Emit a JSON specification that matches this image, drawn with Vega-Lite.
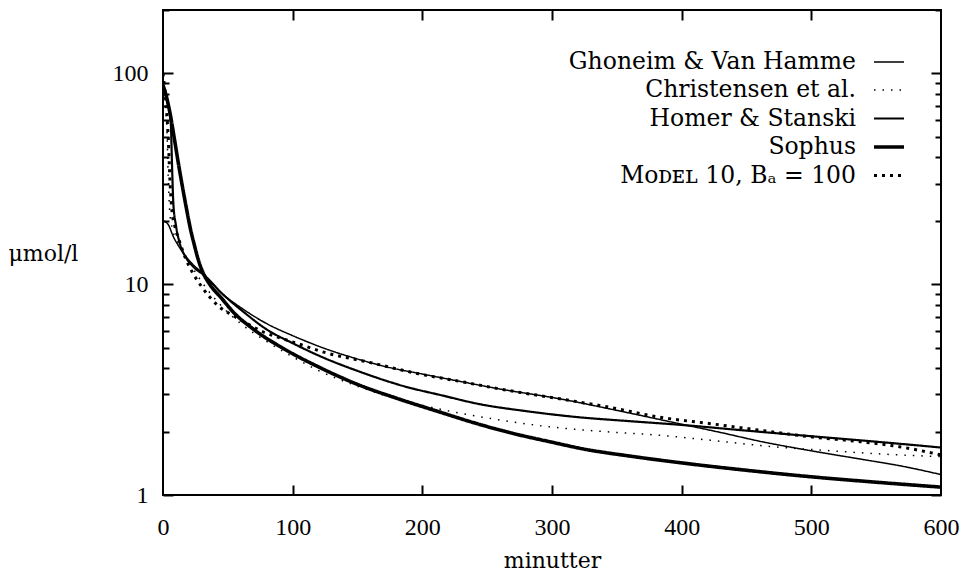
{
  "$schema": "https://vega.github.io/schema/vega-lite/v6.json",
  "autosize": {"type": "none"},
  "padding": {"left": 163, "top": 10, "right": 21, "bottom": 76},
  "width": 778,
  "height": 485,
  "background": "white",
  "config": {
    "view": {"stroke": "black", "strokeWidth": 2},
    "axis": {"grid": false, "domain": false, "tickColor": "black", "tickWidth": 2, "labelColor": "black", "titleColor": "black"},
    "legend": {"symbolStrokeColor": "black"}
  },
  "datasets": {
    "curves": [
      {"t": 0, "v": 20, "s": "Ghoneim & Van Hamme"},
      {"t": 4, "v": 19.2, "s": "Ghoneim & Van Hamme"},
      {"t": 8, "v": 16.8, "s": "Ghoneim & Van Hamme"},
      {"t": 12, "v": 15.2, "s": "Ghoneim & Van Hamme"},
      {"t": 20, "v": 13, "s": "Ghoneim & Van Hamme"},
      {"t": 31, "v": 11.2, "s": "Ghoneim & Van Hamme"},
      {"t": 45, "v": 9.1, "s": "Ghoneim & Van Hamme"},
      {"t": 62, "v": 7.6, "s": "Ghoneim & Van Hamme"},
      {"t": 80, "v": 6.5, "s": "Ghoneim & Van Hamme"},
      {"t": 100, "v": 5.7, "s": "Ghoneim & Van Hamme"},
      {"t": 125, "v": 4.95, "s": "Ghoneim & Van Hamme"},
      {"t": 151, "v": 4.4, "s": "Ghoneim & Van Hamme"},
      {"t": 175, "v": 4.02, "s": "Ghoneim & Van Hamme"},
      {"t": 199, "v": 3.76, "s": "Ghoneim & Van Hamme"},
      {"t": 230, "v": 3.45, "s": "Ghoneim & Van Hamme"},
      {"t": 259, "v": 3.19, "s": "Ghoneim & Van Hamme"},
      {"t": 306, "v": 2.86, "s": "Ghoneim & Van Hamme"},
      {"t": 350, "v": 2.52, "s": "Ghoneim & Van Hamme"},
      {"t": 398, "v": 2.18, "s": "Ghoneim & Van Hamme"},
      {"t": 430, "v": 1.98, "s": "Ghoneim & Van Hamme"},
      {"t": 460, "v": 1.8, "s": "Ghoneim & Van Hamme"},
      {"t": 500, "v": 1.62, "s": "Ghoneim & Van Hamme"},
      {"t": 538, "v": 1.48, "s": "Ghoneim & Van Hamme"},
      {"t": 570, "v": 1.37, "s": "Ghoneim & Van Hamme"},
      {"t": 600, "v": 1.25, "s": "Ghoneim & Van Hamme"},

      {"t": 0, "v": 92, "s": "Christensen et al."},
      {"t": 2, "v": 70, "s": "Christensen et al."},
      {"t": 3, "v": 55, "s": "Christensen et al."},
      {"t": 4, "v": 33, "s": "Christensen et al."},
      {"t": 5, "v": 23, "s": "Christensen et al."},
      {"t": 7, "v": 18.5, "s": "Christensen et al."},
      {"t": 10, "v": 16.5, "s": "Christensen et al."},
      {"t": 13, "v": 15.2, "s": "Christensen et al."},
      {"t": 18, "v": 13.5, "s": "Christensen et al."},
      {"t": 25, "v": 11.4, "s": "Christensen et al."},
      {"t": 35, "v": 9.3, "s": "Christensen et al."},
      {"t": 45, "v": 7.9, "s": "Christensen et al."},
      {"t": 60, "v": 6.5, "s": "Christensen et al."},
      {"t": 80, "v": 5.35, "s": "Christensen et al."},
      {"t": 98, "v": 4.6, "s": "Christensen et al."},
      {"t": 119, "v": 3.92, "s": "Christensen et al."},
      {"t": 150, "v": 3.28, "s": "Christensen et al."},
      {"t": 180, "v": 2.86, "s": "Christensen et al."},
      {"t": 214, "v": 2.55, "s": "Christensen et al."},
      {"t": 250, "v": 2.32, "s": "Christensen et al."},
      {"t": 300, "v": 2.1, "s": "Christensen et al."},
      {"t": 340, "v": 2.0, "s": "Christensen et al."},
      {"t": 383, "v": 1.92, "s": "Christensen et al."},
      {"t": 422, "v": 1.82, "s": "Christensen et al."},
      {"t": 468, "v": 1.7, "s": "Christensen et al."},
      {"t": 509, "v": 1.63, "s": "Christensen et al."},
      {"t": 550, "v": 1.57, "s": "Christensen et al."},
      {"t": 600, "v": 1.52, "s": "Christensen et al."},

      {"t": 0, "v": 88, "s": "Homer & Stanski"},
      {"t": 3, "v": 75, "s": "Homer & Stanski"},
      {"t": 6, "v": 58, "s": "Homer & Stanski"},
      {"t": 7, "v": 36, "s": "Homer & Stanski"},
      {"t": 8, "v": 24, "s": "Homer & Stanski"},
      {"t": 10, "v": 19, "s": "Homer & Stanski"},
      {"t": 13, "v": 15.6, "s": "Homer & Stanski"},
      {"t": 18, "v": 13.3, "s": "Homer & Stanski"},
      {"t": 24, "v": 12, "s": "Homer & Stanski"},
      {"t": 32, "v": 11, "s": "Homer & Stanski"},
      {"t": 45, "v": 9.1, "s": "Homer & Stanski"},
      {"t": 62, "v": 7.4, "s": "Homer & Stanski"},
      {"t": 80, "v": 6.1, "s": "Homer & Stanski"},
      {"t": 100, "v": 5.25, "s": "Homer & Stanski"},
      {"t": 125, "v": 4.45, "s": "Homer & Stanski"},
      {"t": 150, "v": 3.88, "s": "Homer & Stanski"},
      {"t": 186, "v": 3.28, "s": "Homer & Stanski"},
      {"t": 215, "v": 2.97, "s": "Homer & Stanski"},
      {"t": 244, "v": 2.7, "s": "Homer & Stanski"},
      {"t": 280, "v": 2.5, "s": "Homer & Stanski"},
      {"t": 317, "v": 2.35, "s": "Homer & Stanski"},
      {"t": 360, "v": 2.24, "s": "Homer & Stanski"},
      {"t": 400, "v": 2.15, "s": "Homer & Stanski"},
      {"t": 450, "v": 2.02, "s": "Homer & Stanski"},
      {"t": 500, "v": 1.9, "s": "Homer & Stanski"},
      {"t": 550, "v": 1.79, "s": "Homer & Stanski"},
      {"t": 600, "v": 1.68, "s": "Homer & Stanski"},

      {"t": 0, "v": 88, "s": "Sophus"},
      {"t": 3, "v": 76, "s": "Sophus"},
      {"t": 6, "v": 62, "s": "Sophus"},
      {"t": 9, "v": 48, "s": "Sophus"},
      {"t": 12, "v": 37, "s": "Sophus"},
      {"t": 15, "v": 29, "s": "Sophus"},
      {"t": 18, "v": 23, "s": "Sophus"},
      {"t": 21, "v": 18.5, "s": "Sophus"},
      {"t": 24, "v": 15.5, "s": "Sophus"},
      {"t": 27, "v": 13.2, "s": "Sophus"},
      {"t": 31, "v": 11.3, "s": "Sophus"},
      {"t": 36, "v": 10, "s": "Sophus"},
      {"t": 45, "v": 8.6, "s": "Sophus"},
      {"t": 54, "v": 7.4, "s": "Sophus"},
      {"t": 70, "v": 6.1, "s": "Sophus"},
      {"t": 93, "v": 4.95, "s": "Sophus"},
      {"t": 120, "v": 4.05, "s": "Sophus"},
      {"t": 151, "v": 3.33, "s": "Sophus"},
      {"t": 180, "v": 2.88, "s": "Sophus"},
      {"t": 213, "v": 2.48, "s": "Sophus"},
      {"t": 240, "v": 2.2, "s": "Sophus"},
      {"t": 267, "v": 1.98, "s": "Sophus"},
      {"t": 300, "v": 1.78, "s": "Sophus"},
      {"t": 325, "v": 1.65, "s": "Sophus"},
      {"t": 360, "v": 1.53, "s": "Sophus"},
      {"t": 400, "v": 1.42, "s": "Sophus"},
      {"t": 450, "v": 1.31, "s": "Sophus"},
      {"t": 500, "v": 1.22, "s": "Sophus"},
      {"t": 550, "v": 1.15, "s": "Sophus"},
      {"t": 600, "v": 1.09, "s": "Sophus"},

      {"t": 0, "v": 100, "s": "Mᴏᴅᴇʟ 10, Bₐ = 100"},
      {"t": 2, "v": 76, "s": "Mᴏᴅᴇʟ 10, Bₐ = 100"},
      {"t": 4, "v": 50, "s": "Mᴏᴅᴇʟ 10, Bₐ = 100"},
      {"t": 5.5, "v": 30, "s": "Mᴏᴅᴇʟ 10, Bₐ = 100"},
      {"t": 7, "v": 22, "s": "Mᴏᴅᴇʟ 10, Bₐ = 100"},
      {"t": 9, "v": 19, "s": "Mᴏᴅᴇʟ 10, Bₐ = 100"},
      {"t": 13, "v": 15.8, "s": "Mᴏᴅᴇʟ 10, Bₐ = 100"},
      {"t": 18, "v": 13, "s": "Mᴏᴅᴇʟ 10, Bₐ = 100"},
      {"t": 23, "v": 11.3, "s": "Mᴏᴅᴇʟ 10, Bₐ = 100"},
      {"t": 30, "v": 9.7, "s": "Mᴏᴅᴇʟ 10, Bₐ = 100"},
      {"t": 36, "v": 8.7, "s": "Mᴏᴅᴇʟ 10, Bₐ = 100"},
      {"t": 43, "v": 7.85, "s": "Mᴏᴅᴇʟ 10, Bₐ = 100"},
      {"t": 54, "v": 7.1, "s": "Mᴏᴅᴇʟ 10, Bₐ = 100"},
      {"t": 65, "v": 6.5, "s": "Mᴏᴅᴇʟ 10, Bₐ = 100"},
      {"t": 77, "v": 5.95, "s": "Mᴏᴅᴇʟ 10, Bₐ = 100"},
      {"t": 89, "v": 5.6, "s": "Mᴏᴅᴇʟ 10, Bₐ = 100"},
      {"t": 105, "v": 5.2, "s": "Mᴏᴅᴇʟ 10, Bₐ = 100"},
      {"t": 124, "v": 4.76, "s": "Mᴏᴅᴇʟ 10, Bₐ = 100"},
      {"t": 159, "v": 4.26, "s": "Mᴏᴅᴇʟ 10, Bₐ = 100"},
      {"t": 197, "v": 3.76, "s": "Mᴏᴅᴇʟ 10, Bₐ = 100"},
      {"t": 230, "v": 3.45, "s": "Mᴏᴅᴇʟ 10, Bₐ = 100"},
      {"t": 259, "v": 3.19, "s": "Mᴏᴅᴇʟ 10, Bₐ = 100"},
      {"t": 306, "v": 2.86, "s": "Mᴏᴅᴇʟ 10, Bₐ = 100"},
      {"t": 344, "v": 2.61, "s": "Mᴏᴅᴇʟ 10, Bₐ = 100"},
      {"t": 383, "v": 2.34, "s": "Mᴏᴅᴇʟ 10, Bₐ = 100"},
      {"t": 422, "v": 2.18, "s": "Mᴏᴅᴇʟ 10, Bₐ = 100"},
      {"t": 460, "v": 2.03, "s": "Mᴏᴅᴇʟ 10, Bₐ = 100"},
      {"t": 499, "v": 1.89, "s": "Mᴏᴅᴇʟ 10, Bₐ = 100"},
      {"t": 538, "v": 1.79, "s": "Mᴏᴅᴇʟ 10, Bₐ = 100"},
      {"t": 569, "v": 1.69, "s": "Mᴏᴅᴇʟ 10, Bₐ = 100"},
      {"t": 600, "v": 1.55, "s": "Mᴏᴅᴇʟ 10, Bₐ = 100"}
    ]
  },
  "data": {"name": "curves"},
  "resolve": {"axis": {"x": "independent", "y": "independent"}},
  "layer": [
    {
      "mark": {"type": "line", "color": "black", "interpolate": "monotone", "clip": true},
      "encoding": {
        "x": {"field": "t", "type": "quantitative",
              "scale": {"domain": [0, 600], "nice": false, "zero": false},
              "axis": {"orient": "bottom", "values": [0, 100, 200, 300, 400, 500, 600], "ticks": false,
                       "labelFont": "Liberation Serif", "labelFontSize": 24, "labelPadding": 32, "labelBaseline": "middle",
                       "labelFlush": false, "labelOverlap": false,
                       "title": "minutter", "titleFont": "DejaVu Serif", "titleFontSize": 22, "titleFontWeight": "normal",
                       "titleY": 65, "titleBaseline": "middle"}},
        "y": {"field": "v", "type": "quantitative",
              "scale": {"type": "log", "domain": [1, 200], "nice": false},
              "axis": {"orient": "left", "values": [1, 10, 100], "ticks": false,
                       "labelFont": "Liberation Serif", "labelFontSize": 24, "labelPadding": 15, "labelBaseline": "middle",
                       "labelFlush": false, "labelOverlap": false, "format": "d",
                       "title": "μmol/l", "titleFont": "DejaVu Serif", "titleFontSize": 22, "titleFontWeight": "normal",
                       "titleAngle": 0, "titleAlign": "left", "titleBaseline": "middle", "titleX": -155, "titleY": 243}},
        "detail": {"field": "s", "type": "nominal"},
        "strokeDash": {"field": "s", "type": "nominal",
                       "scale": {"domain": ["Ghoneim & Van Hamme", "Christensen et al.", "Homer & Stanski", "Sophus", "Mᴏᴅᴇʟ 10, Bₐ = 100"],
                                 "range": [[1, 0], [1.5, 7], [1, 0], [1, 0], [3, 5]]},
                       "legend": {"orient": "none", "legendX": 709, "legendY": 36, "title": null, "padding": 0,
                                  "labelFont": "DejaVu Serif", "labelFontSize": 23.5, "labelColor": "black", "labelLimit": 0,
                                  "labelAlign": "right", "labelOffset": -50, "symbolType": "stroke", "symbolSize": 900,
                                  "symbolStrokeColor": "black", "rowPadding": 0}},
        "strokeWidth": {"field": "s", "type": "nominal",
                        "scale": {"type": "ordinal", "domain": ["Ghoneim & Van Hamme", "Christensen et al.", "Homer & Stanski", "Sophus", "Mᴏᴅᴇʟ 10, Bₐ = 100"],
                                  "range": [1.5, 1.5, 2.2, 3.6, 3]},
                        "legend": {"orient": "none", "legendX": 709, "legendY": 36, "title": null, "padding": 0,
                                   "labelFont": "DejaVu Serif", "labelFontSize": 23.5, "labelColor": "black", "labelLimit": 0,
                                   "labelAlign": "right", "labelOffset": -50, "symbolType": "stroke", "symbolSize": 900,
                                   "symbolStrokeColor": "black", "rowPadding": 0}}
      }
    },
    {
      "mark": {"type": "point", "opacity": 0},
      "encoding": {
        "x": {"field": "t", "type": "quantitative",
              "axis": {"orient": "top", "values": [100, 200, 300, 400, 500], "labels": false, "tickSize": -10, "title": null}},
        "y": {"field": "v", "type": "quantitative",
              "axis": {"orient": "left", "values": [1, 10, 100], "labels": false, "tickSize": -10, "title": null}}
      }
    },
    {
      "mark": {"type": "point", "opacity": 0},
      "encoding": {
        "x": {"field": "t", "type": "quantitative",
              "axis": {"orient": "bottom", "values": [100, 200, 300, 400, 500], "labels": false, "tickSize": -10, "title": null}},
        "y": {"field": "v", "type": "quantitative",
              "axis": {"orient": "right", "values": [1, 10, 100], "labels": false, "tickSize": -10, "title": null}}
      }
    },
    {
      "mark": {"type": "point", "opacity": 0},
      "encoding": {
        "x": {"field": "t", "type": "quantitative", "axis": null},
        "y": {"field": "v", "type": "quantitative",
              "axis": {"orient": "left", "values": [2, 3, 4, 5, 6, 7, 8, 9, 20, 30, 40, 50, 60, 70, 80, 90, 200], "labels": false, "tickSize": -6, "title": null}}
      }
    },
    {
      "mark": {"type": "point", "opacity": 0},
      "encoding": {
        "x": {"field": "t", "type": "quantitative", "axis": null},
        "y": {"field": "v", "type": "quantitative",
              "axis": {"orient": "right", "values": [2, 3, 4, 5, 6, 7, 8, 9, 20, 30, 40, 50, 60, 70, 80, 90, 200], "labels": false, "tickSize": -6, "title": null}}
      }
    }
  ]
}
